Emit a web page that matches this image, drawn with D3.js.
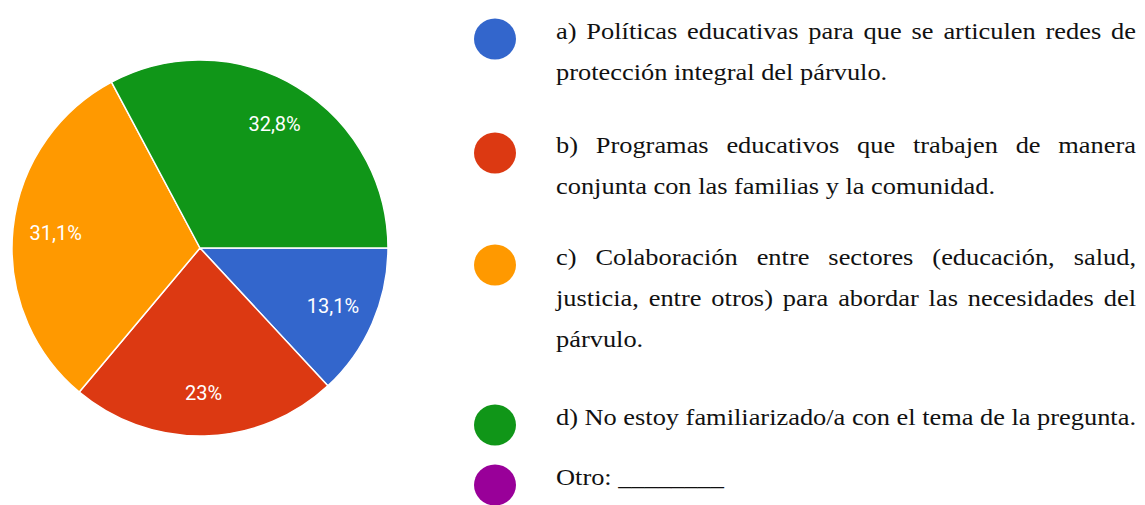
<!DOCTYPE html>
<html>
<head>
<meta charset="utf-8">
<script src="https://cdn.jsdelivr.net/npm/d3@7"></script>
<style>
  html, body { margin: 0; padding: 0; background: #ffffff; }
  svg { display: block; }
</style>
</head>
<body>
<div id="chart"></div>
<script>
// ---- data ----
const categories = ["a", "b", "c", "d", "Otro"];
const values = [13.1, 23, 31.1, 32.8, 0];
const valueLabels = ["13,1%", "23%", "31,1%", "32,8%", ""];
const colors = ["#3366cc", "#dc3912", "#ff9900", "#109618", "#990099"];
const legendLines = [
  ["a) Políticas educativas para que se articulen redes de", "protección integral del párvulo."],
  ["b) Programas educativos que trabajen de manera", "conjunta con las familias y la comunidad."],
  ["c) Colaboración entre sectores (educación, salud,", "justicia, entre otros) para abordar las necesidades del", "párvulo."],
  ["d) No estoy familiarizado/a con el tema de la pregunta."],
  ["Otro: ________"]
];
const legendJustify = [
  [true, false],
  [true, false],
  [true, true, false],
  [true],
  [false]
];

// ---- layout ----
const W = 1145, H = 505;
const cx = 200, cy = 248, R = 188, labelR = 145;
const rowY = [39, 153, 265, 425, 485];
const lineGap = 41;
const markerX = 495, markerRx = 21, markerRy = 20.5;
const textX = 556, textRight = 1136, sx = 1.1;

const svg = d3.select("#chart").append("svg")
  .attr("width", W).attr("height", H);

const data = categories.map((c, i) => ({ cat: c, value: values[i], label: valueLabels[i], color: colors[i] }));

const pie = d3.pie().value(d => d.value).sort(null)
  .startAngle(Math.PI / 2).endAngle(Math.PI / 2 + 2 * Math.PI);
const arcs = pie(data).filter(d => d.data.value > 0);
const arc = d3.arc().innerRadius(0).outerRadius(R);
const labelArc = d3.arc().innerRadius(labelR).outerRadius(labelR);

const g = svg.append("g").attr("transform", `translate(${cx},${cy})`);
g.selectAll("path").data(arcs).join("path")
  .attr("d", arc)
  .attr("fill", d => d.data.color)
  .attr("stroke", "#ffffff")
  .attr("stroke-width", 1.5)
  .attr("stroke-linejoin", "round");

g.selectAll("text").data(arcs).join("text")
  .attr("transform", d => `translate(${labelArc.centroid(d)})`)
  .attr("text-anchor", "middle")
  .attr("dominant-baseline", "central")
  .attr("font-family", "Roboto, Arial, sans-serif")
  .attr("font-size", 20)
  .attr("fill", "#ffffff")
  .text(d => d.data.label);

// ---- legend ----
const leg = svg.append("g");
data.forEach((d, i) => {
  leg.append("ellipse")
    .attr("cx", markerX).attr("cy", rowY[i])
    .attr("rx", markerRx).attr("ry", markerRy)
    .attr("fill", d.color);
  legendLines[i].forEach((line, j) => {
    const t = leg.append("text")
      .attr("transform", `translate(${textX},${rowY[i] + j * lineGap}) scale(${sx},1)`)
      .attr("font-family", "'Liberation Serif', 'Times New Roman', serif")
      .attr("font-size", 24)
      .attr("fill", "#111111")
      .style("white-space", "pre")
      .text(line);
    if (legendJustify[i][j]) {
      const natural = t.node().getComputedTextLength();
      const target = (textRight - textX) / sx;
      const nSpaces = (line.match(/ /g) || []).length;
      if (nSpaces > 0) t.attr("word-spacing", (target - natural) / nSpaces);
    }
  });
});
</script>
</body>
</html>
